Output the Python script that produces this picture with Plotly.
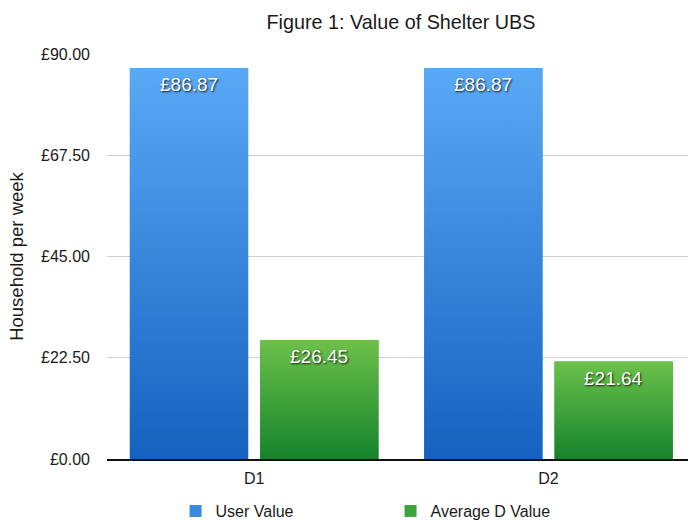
import plotly.graph_objects as go

# Weekly value of the shelter UBS per household
categories = ["D1", "D2"]
series_names = ["User Value", "Average D Value"]
user_value = [86.87, 86.87]
average_d_value = [26.45, 21.64]

y_tick_vals = [0, 22.5, 45, 67.5, 90]
y_tick_text = ["£0.00", "£22.50", "£45.00", "£67.50", "£90.00"]

# styling: (top colour, bottom colour) of each series' vertical gradient
gradients = [("#5aa9f6", "#1462bf"), ("#6cc14a", "#15832b")]
solid = ["#3a8ae0", "#3fa33c"]
bar_width = 0.402
bar_offsets = [-0.4224, 0.0204]

FONT = "Liberation Sans, Arial, Helvetica, sans-serif"

fig = go.Figure()
xs = list(range(len(categories)))
all_values = [user_value, average_d_value]

# plain bars (base marks + legend entries)
for name, vals, col, off in zip(series_names, all_values, solid, bar_offsets):
    fig.add_trace(go.Bar(
        x=xs, y=vals, name=name, marker=dict(color=col, line=dict(width=0)),
        width=bar_width, offset=off, hoverinfo="skip",
    ))

# gradient shading laid over each bar, built from the same values
for vals, (top, bottom), off in zip(all_values, gradients, bar_offsets):
    for c, v in zip(xs, vals):
        x0, x1 = c + off, c + off + bar_width
        fig.add_trace(go.Scatter(
            x=[x0, x1, x1, x0, x0], y=[0, 0, v, v, 0],
            mode="lines", line=dict(width=0), fill="toself",
            fillgradient=dict(type="vertical", colorscale=[[0, bottom], [1, top]],
                              start=0, stop=v),
            showlegend=False, hoverinfo="skip",
        ))

# value labels just inside the top of each bar
annotations = []
for vals, off in zip(all_values, bar_offsets):
    for c, v in zip(xs, vals):
        annotations.append(dict(
            x=c + off + bar_width / 2, y=v, xref="x", yref="y",
            text=f"£{v:.2f}", showarrow=False, yanchor="top", yshift=-4,
            font=dict(family=FONT, size=19, color="white",
                      shadow="1px 1px 2px rgba(0,0,0,0.85)"),
        ))

fig.update_layout(
    width=688, height=520,
    margin=dict(l=107, r=0, t=54, b=61),
    paper_bgcolor="white", plot_bgcolor="white",
    font=dict(family=FONT, color="#1a1a1a"),
    annotations=annotations,
    title=dict(text="Figure 1: Value of Shelter UBS", x=401 / 688, xanchor="center",
               y=1 - 22 / 520, yanchor="middle", yref="container",
               font=dict(family=FONT, size=19.8, color="#1a1a1a")),
    showlegend=True,
    legend=dict(orientation="h", x=0.118, xanchor="left",
                yref="container", y=9 / 520, yanchor="middle",
                entrywidth=170, entrywidthmode="pixels",
                font=dict(family=FONT, size=16, color="#1a1a1a"),
                bgcolor="rgba(0,0,0,0)"),
    xaxis=dict(range=[-0.5, 1.474], tickvals=xs, ticktext=categories,
               showgrid=False, zeroline=False, showline=True,
               linecolor="#111111", linewidth=2, ticks="",
               tickfont=dict(family=FONT, size=16, color="#1a1a1a"),
               ticklabelstandoff=4),
    yaxis=dict(range=[0, 90], tickvals=y_tick_vals, ticktext=y_tick_text,
               showgrid=True, gridcolor="#cfcfcf", gridwidth=1,
               zeroline=False, showline=False, ticks="",
               tickfont=dict(family=FONT, size=16, color="#1a1a1a"),
               ticklabelstandoff=16,
               title=dict(text="Household per week", standoff=12,
                          font=dict(family=FONT, size=18.5, color="#1a1a1a"))),
)

fig.write_html("out.html")
